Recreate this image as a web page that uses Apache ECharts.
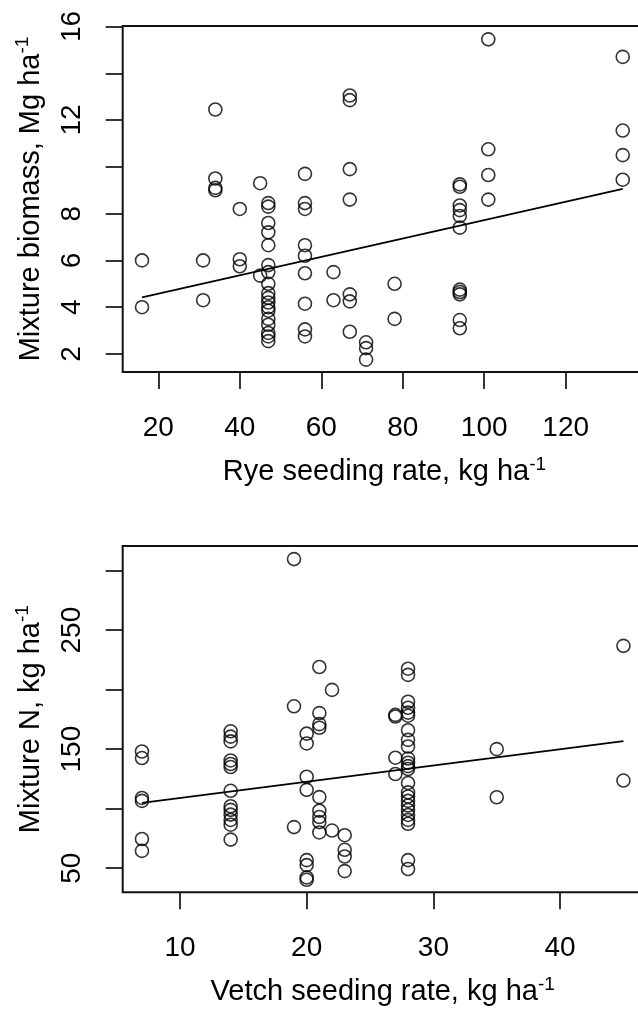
<!DOCTYPE html>
<html>
<head>
<meta charset="utf-8">
<script src="https://cdn.jsdelivr.net/npm/echarts@6/dist/echarts.min.js"></script>
<style>html,body{margin:0;padding:0;background:#fff;overflow:hidden;width:638px;height:1009px}#c{width:680px;height:1009px}</style>
</head>
<body>
<div id="c"></div>
<script>
// Top panel: rye seeding rate (kg/ha) vs mixture biomass (Mg/ha)
const ryeRate = [16,16, 31,31, 34,34,34,34, 40,40,40, 45,45,
  47,47,47,47,47,47,47,47,47,47,47,47,47,47,47,47,47,47,
  56,56,56,56,56,56,56,56,56, 63,63, 67,67,67,67,67,67,67, 71,71,71, 78,78,
  94,94,94,94,94,94,94,94,94,94,94, 101,101,101,101, 134,134,134,134];
const biomass = [6.0,4.0, 6.0,4.3, 12.45,9.5,9.1,9.0, 8.2,6.05,5.75, 9.3,5.35,
  8.45,8.3,7.6,7.2,6.65,5.8,5.5,5.0,4.6,4.4,4.2,4.0,3.85,3.5,3.25,2.9,2.75,2.55,
  9.7,8.45,8.2,6.65,6.2,5.45,4.15,3.05,2.75, 5.5,4.3, 13.05,12.85,9.9,8.6,4.55,4.25,2.95, 2.5,2.25,1.76, 5.0,3.5,
  9.25,9.15,8.35,8.15,7.9,7.4,4.75,4.65,4.55,3.45,3.1, 15.45,10.75,9.65,8.6, 14.7,11.55,10.5,9.45];
const ryeFitX = [16, 134];
const ryeFitY = [4.42, 9.06];

// Bottom panel: vetch seeding rate (kg/ha) vs mixture N (kg/ha)
const vetchRate = [7,7,7,7,7,7,
  14,14,14,14,14,14,14,14,14,14,14,14,14,
  19,19,19, 20,20,20,20,20,20,20,20, 21,21,21,21,21,21,21,21,21, 22,22, 23,23,23,23,
  27,27,27,27,
  28,28,28,28,28,28,28,28,28,28,28,28,28,28,28,28,28,28,28,28,28,28,28,28,
  35,35, 45,45];
const mixN = [148,142.5,109,106.5,74.5,64.5,
  165,160.5,156.5,140.5,137.5,135,115,102,99,95,90.5,86.5,74,
  309.7,186,84.5, 163,154.8,126.8,115.8,56.7,52.5,42.2,40.2, 219,180.3,171,168,109.7,98.3,93,88.7,80, 199.8,81.6, 77.7,65.4,59.8,47.5,
  178.8,177.4,142.8,129.1,
  217.6,212.4,189.8,184.8,180.7,178.1,165.9,157.8,152.2,142.1,138.6,135.7,133.3,121.6,113.7,110.2,106.5,102.6,98.9,94.7,90.5,87.3,56.7,49.3,
  150,109.6, 236.8,123.6];
const vetchFitX = [7, 45];
const vetchFitY = [104.8, 156.7];

const ryeTicks = [20,40,60,80,100,120];
const biomassTicks = [2,4,6,8,10,12,14,16];
const biomassLabels = [2,4,6,8,12,16];
const vetchTicks = [10,20,30,40];
const nTicks = [50,100,150,200,250,300];
const nLabels = [50,150,250];

const FONT = 'Liberation Sans, Arial, sans-serif';
const zip = (a, b) => a.map((v, i) => [v, b[i]]);

function xAxisCfg(idx, min, max, ticks, nameMain) {
  return {
    type: 'value', gridIndex: idx, min: min, max: max,
    name: nameMain + '{s|-1}', nameLocation: 'middle', nameGap: 83,
    nameTextStyle: {fontFamily: FONT, fontSize: 29, color: '#000',
      rich: {s: {fontFamily: FONT, fontSize: 19, color: '#000', verticalAlign: 'top', lineHeight: 34}}},
    splitLine: {show: false}, axisLine: {show: false},
    axisTick: {show: true, inside: false, length: 17, customValues: ticks, lineStyle: {color: '#111', width: 1.7}},
    axisLabel: {show: true, margin: 42, customValues: ticks, fontFamily: FONT, fontSize: 28, color: '#000'}
  };
}
function yAxisCfg(idx, min, max, ticks, labels, nameMain) {
  return {
    type: 'value', gridIndex: idx, min: min, max: max,
    name: nameMain + '{s|-1}', nameLocation: 'middle', nameGap: 75, nameRotate: 90,
    nameTextStyle: {fontFamily: FONT, fontSize: 29, color: '#000',
      rich: {s: {fontFamily: FONT, fontSize: 19, color: '#000', verticalAlign: 'top', lineHeight: 34}}},
    splitLine: {show: false}, axisLine: {show: false},
    axisTick: {show: true, inside: false, length: 17, customValues: ticks, lineStyle: {color: '#111', width: 1.7}},
    axisLabel: {show: true, rotate: 90, margin: 36, customValues: labels, fontFamily: FONT, fontSize: 28, color: '#000'}
  };
}
const scatterStyle = {color: 'rgba(0,0,0,0)', borderColor: '#000', borderWidth: 1.6};

const chart = echarts.init(document.getElementById('c'), null, {renderer: 'canvas'});
chart.setOption({
  backgroundColor: '#fff',
  animation: false,
  grid: [
    {left: 122.7, top: 26, width: 523.5, height: 346, show: true, borderColor: '#111', borderWidth: 2, backgroundColor: 'transparent'},
    {left: 122.7, top: 546, width: 520, height: 346.3, show: true, borderColor: '#111', borderWidth: 2, backgroundColor: 'transparent'}
  ],
  xAxis: [
    xAxisCfg(0, 11.26, 139.76, ryeTicks, 'Rye seeding rate, kg ha'),
    xAxisCfg(1, 5.48, 46.52, vetchTicks, 'Vetch seeding rate, kg ha')
  ],
  yAxis: [
    yAxisCfg(0, 1.23, 16.02, biomassTicks, biomassLabels, 'Mixture biomass, Mg ha'),
    yAxisCfg(1, 29.7, 320.7, nTicks, nLabels, 'Mixture N, kg ha')
  ],
  series: [
    {type: 'scatter', xAxisIndex: 0, yAxisIndex: 0, data: zip(ryeRate, biomass), symbol: 'circle', symbolSize: 13, itemStyle: scatterStyle, silent: true},
    {type: 'line', xAxisIndex: 0, yAxisIndex: 0, data: zip(ryeFitX, ryeFitY), showSymbol: false, symbol: 'none', lineStyle: {color: '#000', width: 1.7}, silent: true},
    {type: 'scatter', xAxisIndex: 1, yAxisIndex: 1, data: zip(vetchRate, mixN), symbol: 'circle', symbolSize: 13, itemStyle: scatterStyle, silent: true},
    {type: 'line', xAxisIndex: 1, yAxisIndex: 1, data: zip(vetchFitX, vetchFitY), showSymbol: false, symbol: 'none', lineStyle: {color: '#000', width: 1.7}, silent: true}
  ]
});
</script>
</body>
</html>
